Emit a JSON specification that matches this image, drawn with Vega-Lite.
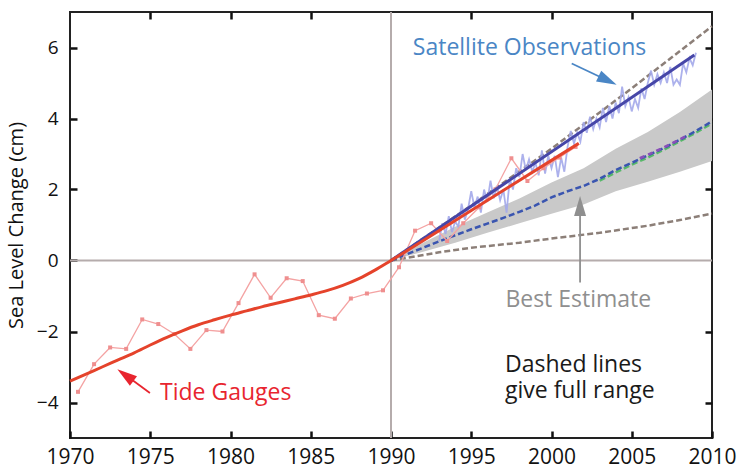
{
  "$schema": "https://vega.github.io/schema/vega-lite/v6.json",
  "width": 642,
  "height": 426,
  "autosize": "none",
  "padding": {"left": 70, "top": 12, "right": 31, "bottom": 34},
  "config": {
    "view": {"stroke": "#222222", "strokeWidth": 2},
    "font": "Open Sans"
  },
  "resolve": {"axis": {"x": "independent", "y": "independent"}},
  "datasets": {
    "band": [
      {"year": 1990, "lo": 0, "hi": 0},
      {"year": 1992, "lo": 0.25, "hi": 0.5},
      {"year": 1994, "lo": 0.5, "hi": 0.95},
      {"year": 1996, "lo": 0.78, "hi": 1.35},
      {"year": 1998, "lo": 1.05, "hi": 1.75},
      {"year": 2000, "lo": 1.32, "hi": 2.2},
      {"year": 2002, "lo": 1.58, "hi": 2.6},
      {"year": 2004, "lo": 1.95, "hi": 3.15},
      {"year": 2006, "lo": 2.22, "hi": 3.62},
      {"year": 2008, "lo": 2.5, "hi": 4.18},
      {"year": 2010, "lo": 2.8, "hi": 4.82}
    ],
    "zeroline": [{"cm": 0}],
    "yearline": [{"year": 1990}],
    "range": [
      {"bound": "upper", "year": 1990, "cm": 0},
      {"bound": "upper", "year": 1995, "cm": 1.55},
      {"bound": "upper", "year": 2000, "cm": 3.15},
      {"bound": "upper", "year": 2005, "cm": 4.85},
      {"bound": "upper", "year": 2010, "cm": 6.6},
      {"bound": "lower", "year": 1990, "cm": 0},
      {"bound": "lower", "year": 1993, "cm": 0.23},
      {"bound": "lower", "year": 1995, "cm": 0.36},
      {"bound": "lower", "year": 1998, "cm": 0.5},
      {"bound": "lower", "year": 2000, "cm": 0.62},
      {"bound": "lower", "year": 2003, "cm": 0.78},
      {"bound": "lower", "year": 2006, "cm": 0.98},
      {"bound": "lower", "year": 2008, "cm": 1.14},
      {"bound": "lower", "year": 2010, "cm": 1.32}
    ],
    "best": [
      {"year": 1990, "cm": 0}, {"year": 1991, "cm": 0.18}, {"year": 1992, "cm": 0.36},
      {"year": 1993, "cm": 0.54}, {"year": 1994, "cm": 0.71}, {"year": 1995, "cm": 0.88},
      {"year": 1996, "cm": 1.04}, {"year": 1997, "cm": 1.2}, {"year": 1998, "cm": 1.37},
      {"year": 1999, "cm": 1.55}, {"year": 2000, "cm": 1.78}, {"year": 2001, "cm": 1.95},
      {"year": 2002, "cm": 2.1}, {"year": 2003, "cm": 2.3}, {"year": 2004, "cm": 2.55},
      {"year": 2005, "cm": 2.75}, {"year": 2006, "cm": 2.96}, {"year": 2007, "cm": 3.17},
      {"year": 2008, "cm": 3.4}, {"year": 2009, "cm": 3.65}, {"year": 2010, "cm": 3.92}
    ],
    "green": [
      {"year": 2003, "cm": 2.25}, {"year": 2004, "cm": 2.48}, {"year": 2005, "cm": 2.7},
      {"year": 2006, "cm": 2.9}, {"year": 2007, "cm": 3.12}, {"year": 2008, "cm": 3.36},
      {"year": 2009, "cm": 3.6}, {"year": 2010, "cm": 3.86}
    ],
    "purple": [
      {"year": 2005.5, "cm": 2.88}, {"year": 2006.5, "cm": 3.08}, {"year": 2007.5, "cm": 3.3},
      {"year": 2008.5, "cm": 3.53}
    ],
    "satellite": [
      {"year": 1993.0, "cm": 0.55}, {"year": 1993.2, "cm": 1.05}, {"year": 1993.4, "cm": 0.75},
      {"year": 1993.6, "cm": 1.25}, {"year": 1993.8, "cm": 0.8}, {"year": 1994.0, "cm": 1.1},
      {"year": 1994.2, "cm": 0.95}, {"year": 1994.4, "cm": 1.6}, {"year": 1994.6, "cm": 1.15},
      {"year": 1994.8, "cm": 1.45}, {"year": 1995.0, "cm": 1.95}, {"year": 1995.2, "cm": 1.5},
      {"year": 1995.4, "cm": 1.8}, {"year": 1995.6, "cm": 1.35}, {"year": 1995.8, "cm": 2.0},
      {"year": 1996.0, "cm": 1.65}, {"year": 1996.2, "cm": 2.25}, {"year": 1996.4, "cm": 1.75},
      {"year": 1996.6, "cm": 2.1}, {"year": 1996.8, "cm": 1.7}, {"year": 1997.0, "cm": 2.0},
      {"year": 1997.2, "cm": 1.35}, {"year": 1997.4, "cm": 2.3}, {"year": 1997.6, "cm": 2.0},
      {"year": 1997.8, "cm": 2.6}, {"year": 1998.0, "cm": 2.35}, {"year": 1998.2, "cm": 3.0},
      {"year": 1998.4, "cm": 2.55}, {"year": 1998.6, "cm": 2.85}, {"year": 1998.8, "cm": 2.5},
      {"year": 1999.0, "cm": 2.75}, {"year": 1999.2, "cm": 2.4}, {"year": 1999.4, "cm": 3.1},
      {"year": 1999.6, "cm": 2.45}, {"year": 1999.8, "cm": 2.95}, {"year": 2000.0, "cm": 2.6},
      {"year": 2000.2, "cm": 2.95}, {"year": 2000.4, "cm": 2.35}, {"year": 2000.6, "cm": 2.9},
      {"year": 2000.8, "cm": 2.5}, {"year": 2001.0, "cm": 3.2}, {"year": 2001.2, "cm": 3.65},
      {"year": 2001.4, "cm": 3.3}, {"year": 2001.6, "cm": 3.6}, {"year": 2001.8, "cm": 3.35},
      {"year": 2002.0, "cm": 3.9}, {"year": 2002.2, "cm": 3.6}, {"year": 2002.4, "cm": 4.05},
      {"year": 2002.6, "cm": 3.7}, {"year": 2002.8, "cm": 4.0}, {"year": 2003.0, "cm": 3.75},
      {"year": 2003.2, "cm": 4.3}, {"year": 2003.4, "cm": 3.9}, {"year": 2003.6, "cm": 4.35},
      {"year": 2003.8, "cm": 4.0}, {"year": 2004.0, "cm": 4.45}, {"year": 2004.2, "cm": 4.15},
      {"year": 2004.4, "cm": 4.9}, {"year": 2004.6, "cm": 4.35}, {"year": 2004.8, "cm": 4.6},
      {"year": 2005.0, "cm": 4.2}, {"year": 2005.2, "cm": 4.55}, {"year": 2005.4, "cm": 4.3},
      {"year": 2005.6, "cm": 4.85}, {"year": 2005.8, "cm": 4.55}, {"year": 2006.0, "cm": 5.0},
      {"year": 2006.2, "cm": 5.35}, {"year": 2006.4, "cm": 4.95}, {"year": 2006.6, "cm": 5.25},
      {"year": 2006.8, "cm": 5.0}, {"year": 2007.0, "cm": 5.3}, {"year": 2007.2, "cm": 5.0},
      {"year": 2007.4, "cm": 5.45}, {"year": 2007.6, "cm": 4.95}, {"year": 2007.8, "cm": 5.1},
      {"year": 2008.0, "cm": 4.95}, {"year": 2008.2, "cm": 5.55}, {"year": 2008.4, "cm": 5.3},
      {"year": 2008.6, "cm": 5.7}, {"year": 2008.8, "cm": 5.5}, {"year": 2009.0, "cm": 5.85}
    ],
    "sattrend": [
      {"year": 1990, "cm": 0}, {"year": 2008.9, "cm": 5.79}
    ],
    "tide": [
      {"year": 1970.5, "cm": -3.7}, {"year": 1971.5, "cm": -2.92}, {"year": 1972.5, "cm": -2.45},
      {"year": 1973.5, "cm": -2.49}, {"year": 1974.5, "cm": -1.66}, {"year": 1975.5, "cm": -1.79},
      {"year": 1976.5, "cm": -2.07}, {"year": 1977.5, "cm": -2.49}, {"year": 1978.5, "cm": -1.96},
      {"year": 1979.5, "cm": -2.0}, {"year": 1980.5, "cm": -1.2}, {"year": 1981.5, "cm": -0.39},
      {"year": 1982.5, "cm": -1.05}, {"year": 1983.5, "cm": -0.5}, {"year": 1984.5, "cm": -0.58},
      {"year": 1985.5, "cm": -1.54}, {"year": 1986.5, "cm": -1.64}, {"year": 1987.5, "cm": -1.07},
      {"year": 1988.5, "cm": -0.93}, {"year": 1989.5, "cm": -0.84}, {"year": 1990.5, "cm": -0.19},
      {"year": 1991.5, "cm": 0.84}, {"year": 1992.5, "cm": 1.05}, {"year": 1993.5, "cm": 0.55},
      {"year": 1994.5, "cm": 1.05}, {"year": 1995.5, "cm": 1.5}, {"year": 1996.5, "cm": 2.0},
      {"year": 1997.5, "cm": 2.88}, {"year": 1998.5, "cm": 2.24}, {"year": 1999.5, "cm": 2.6},
      {"year": 2000.5, "cm": 2.9}, {"year": 2001.5, "cm": 3.2}
    ],
    "tidesmooth": [
      {"year": 1970, "cm": -3.4}, {"year": 1971, "cm": -3.2}, {"year": 1972, "cm": -3.0},
      {"year": 1973, "cm": -2.8}, {"year": 1974, "cm": -2.6}, {"year": 1975, "cm": -2.38},
      {"year": 1976, "cm": -2.17}, {"year": 1977, "cm": -1.98}, {"year": 1978, "cm": -1.81},
      {"year": 1979, "cm": -1.67}, {"year": 1980, "cm": -1.54}, {"year": 1981, "cm": -1.42},
      {"year": 1982, "cm": -1.3}, {"year": 1983, "cm": -1.19}, {"year": 1984, "cm": -1.08},
      {"year": 1985, "cm": -0.97}, {"year": 1986, "cm": -0.85}, {"year": 1987, "cm": -0.7},
      {"year": 1988, "cm": -0.51}, {"year": 1989, "cm": -0.27}, {"year": 1990, "cm": 0},
      {"year": 1995, "cm": 1.41}, {"year": 2000, "cm": 2.82}, {"year": 2001.7, "cm": 3.3}
    ],
    "arrows": [
      {"name": "sat", "year": 2001.26, "cm": 5.55, "year2": 2003.5, "cm2": 5.07},
      {"name": "tide", "year": 1974.98, "cm": -3.73, "year2": 1973.5, "cm2": -3.24},
      {"name": "best", "year": 2001.78, "cm": -0.62, "year2": 2001.78, "cm2": 1.4}
    ],
    "heads": [
      {"name": "sat", "year": 2004.06, "cm": 4.95, "dir": 115.6},
      {"name": "tide", "year": 1972.95, "cm": -3.06, "dir": 306.3},
      {"name": "best", "year": 2001.78, "cm": 1.82, "dir": 0}
    ],
    "labels": [
      {"name": "sat", "year": 1998.63, "cm": 5.79, "text": "Satellite Observations"},
      {"name": "tide", "year": 1979.7, "cm": -3.92, "text": "Tide Gauges"},
      {"name": "best", "year": 2001.67, "cm": -1.31, "text": "Best Estimate"}
    ],
    "note": [
      {"year": 1997.1, "cm": -3.13, "text": "Dashed lines\ngive full range"}
    ]
  },
  "layer": [
    {
      "data": {"name": "band"},
      "mark": {"type": "area", "color": "#c9c9c9", "opacity": 1},
      "encoding": {
        "x": {"field": "year", "type": "quantitative", "scale": {"domain": [1970, 2010], "nice": false, "zero": false},
              "axis": {"orient": "bottom", "values": [1970, 1975, 1980, 1985, 1990, 1995, 2000, 2005, 2010], "format": "d", "labelFontSize": 21, "labelColor": "#111111", "labelPadding": 8, "labelFlush": false, "title": null, "domain": false, "grid": false, "ticks": true, "tickSize": 7, "offset": -7, "tickColor": "#111111", "tickWidth": 2.5}},
        "y": {"field": "lo", "type": "quantitative", "scale": {"domain": [-5, 7], "nice": false, "zero": false},
              "axis": {"orient": "left", "values": [-4, -2, 0, 2, 4, 6], "labelFontSize": 19, "labelColor": "#111111", "labelPadding": 12, "title": "Sea Level Change (cm)", "titleFontSize": 20, "titleFontWeight": "normal", "titleColor": "#111111", "titlePadding": 10, "domain": false, "grid": false, "ticks": true, "tickSize": 7, "offset": -7, "tickColor": "#111111", "tickWidth": 2.5}},
        "y2": {"field": "hi"}
      }
    },
    {
      "data": {"name": "zeroline"},
      "mark": {"type": "rule", "color": "#b5acac", "strokeWidth": 2},
      "encoding": {"y": {"field": "cm", "type": "quantitative", "axis": null}}
    },
    {
      "data": {"name": "yearline"},
      "mark": {"type": "rule", "color": "#b5acac", "strokeWidth": 2},
      "encoding": {"x": {"field": "year", "type": "quantitative", "axis": null}}
    },
    {
      "data": {"name": "range"},
      "mark": {"type": "line", "color": "#8c7f78", "strokeWidth": 2.5, "strokeDash": [6, 3]},
      "encoding": {
        "x": {"field": "year", "type": "quantitative", "axis": null},
        "y": {"field": "cm", "type": "quantitative", "axis": null},
        "detail": {"field": "bound"}
      }
    },
    {
      "data": {"name": "green"},
      "mark": {"type": "line", "color": "#58b86a", "strokeWidth": 2.5, "strokeDash": [6, 3]},
      "encoding": {
        "x": {"field": "year", "type": "quantitative", "axis": null},
        "y": {"field": "cm", "type": "quantitative", "axis": null}
      }
    },
    {
      "data": {"name": "best"},
      "mark": {"type": "line", "color": "#3a55b0", "strokeWidth": 2.5, "strokeDash": [6, 3]},
      "encoding": {
        "x": {"field": "year", "type": "quantitative", "axis": null},
        "y": {"field": "cm", "type": "quantitative", "axis": null}
      }
    },
    {
      "data": {"name": "purple"},
      "mark": {"type": "line", "color": "#8a50b8", "strokeWidth": 2.5, "strokeDash": [5, 4]},
      "encoding": {
        "x": {"field": "year", "type": "quantitative", "axis": null},
        "y": {"field": "cm", "type": "quantitative", "axis": null}
      }
    },
    {
      "data": {"name": "satellite"},
      "mark": {"type": "line", "color": "#a3a9ea", "strokeWidth": 1.8, "opacity": 0.9},
      "encoding": {
        "x": {"field": "year", "type": "quantitative", "axis": null},
        "y": {"field": "cm", "type": "quantitative", "axis": null}
      }
    },
    {
      "data": {"name": "tide"},
      "mark": {"type": "line", "color": "#f4a3a3", "strokeWidth": 1.3, "point": {"shape": "square", "size": 16, "color": "#ef8f8f", "filled": true}},
      "encoding": {
        "x": {"field": "year", "type": "quantitative", "axis": null},
        "y": {"field": "cm", "type": "quantitative", "axis": null}
      }
    },
    {
      "data": {"name": "sattrend"},
      "mark": {"type": "line", "color": "#4646a8", "strokeWidth": 3},
      "encoding": {
        "x": {"field": "year", "type": "quantitative",
              "axis": {"orient": "top", "values": [1975, 1980, 1985, 1995, 2000, 2005], "labels": false, "title": null, "domain": false, "grid": false, "ticks": true, "tickSize": 7, "offset": -7, "tickColor": "#111111", "tickWidth": 2.5}},
        "y": {"field": "cm", "type": "quantitative",
              "axis": {"orient": "right", "values": [-4, -2, 2, 4, 6], "labels": false, "title": null, "domain": false, "grid": false, "ticks": true, "tickSize": 7, "offset": -7, "tickColor": "#111111", "tickWidth": 2.5}}
      }
    },
    {
      "data": {"name": "tidesmooth"},
      "mark": {"type": "line", "color": "#e5432b", "strokeWidth": 3, "interpolate": "monotone"},
      "encoding": {
        "x": {"field": "year", "type": "quantitative", "axis": null},
        "y": {"field": "cm", "type": "quantitative", "axis": null}
      }
    },
    {
      "data": {"name": "arrows"},
      "mark": {"type": "rule", "strokeWidth": 1.8},
      "encoding": {
        "x": {"field": "year", "type": "quantitative", "axis": null},
        "y": {"field": "cm", "type": "quantitative", "axis": null},
        "x2": {"field": "year2"},
        "y2": {"field": "cm2"},
        "color": {"field": "name", "type": "nominal", "scale": {"domain": ["sat", "tide", "best"], "range": ["#4a86c5", "#e8252f", "#8f8f8f"]}, "legend": null}
      }
    },
    {
      "data": {"name": "heads"},
      "mark": {"type": "point", "shape": "M0,0L0.6,2L-0.6,2Z", "filled": true, "size": 400, "opacity": 1},
      "encoding": {
        "x": {"field": "year", "type": "quantitative", "axis": null},
        "y": {"field": "cm", "type": "quantitative", "axis": null},
        "angle": {"field": "dir", "type": "quantitative", "scale": null},
        "color": {"field": "name", "type": "nominal", "scale": {"domain": ["sat", "tide", "best"], "range": ["#4a86c5", "#e8252f", "#8f8f8f"]}, "legend": null}
      }
    },
    {
      "data": {"name": "labels"},
      "mark": {"type": "text", "fontSize": 23, "align": "center", "baseline": "alphabetic"},
      "encoding": {
        "x": {"field": "year", "type": "quantitative", "axis": null},
        "y": {"field": "cm", "type": "quantitative", "axis": null},
        "text": {"field": "text"},
        "color": {"field": "name", "type": "nominal", "scale": {"domain": ["sat", "tide", "best"], "range": ["#4a86c5", "#e8252f", "#8f8f8f"]}, "legend": null}
      }
    },
    {
      "data": {"name": "note"},
      "mark": {"type": "text", "fontSize": 23, "align": "left", "baseline": "alphabetic", "color": "#1a1a1a", "lineBreak": "\n", "lineHeight": 26.6},
      "encoding": {
        "x": {"field": "year", "type": "quantitative", "axis": null},
        "y": {"field": "cm", "type": "quantitative", "axis": null},
        "text": {"field": "text"}
      }
    }
  ]
}
